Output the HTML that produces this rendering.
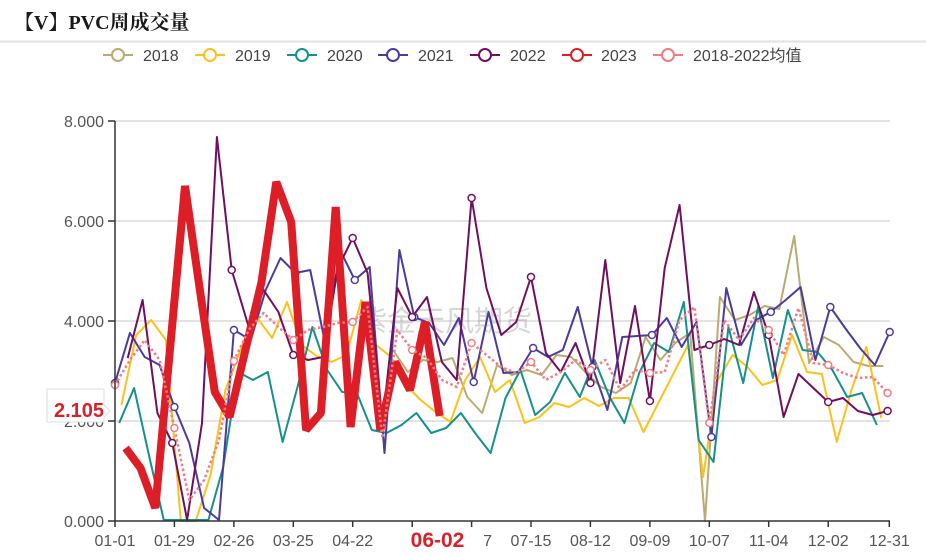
<!DOCTYPE html>
<html><head><meta charset="utf-8">
<style>
html,body{margin:0;padding:0;background:#fff;}
svg{display:block;}
</style></head>
<body>
<svg width="926" height="556" xmlns="http://www.w3.org/2000/svg" font-family="'Liberation Sans','Noto Sans CJK SC',sans-serif">
<rect width="926" height="556" fill="#fff"/>
<text x="14" y="29" font-family="'Liberation Serif','Noto Serif CJK SC',serif" font-weight="bold" font-size="20" fill="#1a1a1a">【V】PVC周成交量</text>
<rect x="0" y="40.5" width="926" height="2" fill="#e2e2e2"/>

<!-- legend -->
<g stroke-width="2" fill="#fff">
  <line x1="103" y1="55" x2="133" y2="55" stroke="#b8ab73"/><circle cx="118" cy="55" r="6" stroke="#b8ab73"/>
  <line x1="195" y1="55" x2="225" y2="55" stroke="#fcc21b"/><circle cx="210" cy="55" r="6" stroke="#fcc21b"/>
  <line x1="287" y1="55" x2="317" y2="55" stroke="#16908c"/><circle cx="302" cy="55" r="6" stroke="#16908c"/>
  <line x1="378" y1="55" x2="408" y2="55" stroke="#4b3c9c"/><circle cx="393" cy="55" r="6" stroke="#4b3c9c"/>
  <line x1="470" y1="55" x2="500" y2="55" stroke="#700f5f"/><circle cx="485" cy="55" r="6" stroke="#700f5f"/>
  <line x1="562" y1="55" x2="592" y2="55" stroke="#dd1e26"/><circle cx="577" cy="55" r="6" stroke="#dd1e26"/>
  <line x1="653" y1="55" x2="683" y2="55" stroke="#f37b82"/><circle cx="668" cy="55" r="6" stroke="#f37b82"/>
</g>
<g font-size="16" fill="#444">
  <text x="143" y="61">2018</text>
  <text x="235" y="61">2019</text>
  <text x="327" y="61">2020</text>
  <text x="418" y="61">2021</text>
  <text x="510" y="61">2022</text>
  <text x="601" y="61">2023</text>
  <text x="693" y="61">2018-2022均值</text>
</g>

<!-- grid -->
<g stroke="#dadada" stroke-width="1.5">
  <line x1="115" y1="121" x2="890" y2="121"/>
  <line x1="115" y1="221" x2="890" y2="221"/>
  <line x1="115" y1="321" x2="890" y2="321"/>
  <line x1="115" y1="421" x2="890" y2="421"/>
</g>

<!-- y labels -->
<g font-size="16" fill="#555" text-anchor="end">
  <text x="104" y="127">8.000</text>
  <text x="104" y="227">6.000</text>
  <text x="104" y="327">4.000</text>
  <text x="104" y="427">2.000</text>
  <text x="104" y="527">0.000</text>
</g>

<!-- watermark -->
<text x="358" y="331" font-size="29" fill="#999" fill-opacity="0.4" font-family="'Noto Sans CJK SC',sans-serif">紫金天风期货</text>

<!-- series -->
<g fill="none" stroke-width="2" stroke-linejoin="round">
<polyline stroke="#b8ab73" points="393,350 407.9,372 422.8,360 437.6,362 452.5,358 467.3,397 482.2,413 497,365 511.9,375 526.8,370 541.6,375 556.5,355 571.3,357 586.2,373 601,387 615.9,393 630.8,383 645.6,337 660.5,360 675.3,343 690.2,333 705,521 719.9,297 734.8,320 749.6,315 764.5,306 779.3,309 794.2,236 809.1,363 823.9,337 838.8,345 853.6,362 868.5,366 883.3,366"/>
<polyline stroke="#fcc21b" points="121.4,405 136.2,335 151.1,320 165.9,340 180.8,521 195.7,521 210.5,475 225.4,390 242.4,345 257.2,318 272.1,338 287,302 301.8,345 316.7,356 331.5,362 346.4,355 361.3,300 376.1,345 391,357 405.8,385 420.7,400 435.5,412 450.4,422 465.2,380 480.1,357 495,392 509.8,380 524.7,423 539.5,417 554.4,403 569.2,407 584.1,398 599,406 613.8,398 628.7,398 643.5,432 658.4,403 673.2,374 688.1,345 703,477 717.8,380 732.7,355 747.5,367 762.4,385 777.2,380 792.1,335 807,372 821.8,374 836.7,442 851.5,390 866.4,347 881.2,418"/>
<polyline stroke="#16908c" points="119.2,423 134.1,388 148.9,455 163.8,520 178.6,520 193.5,520 208.4,520 223.2,467 238.1,372 252.9,380 267.8,372 282.6,442 297.5,387 312.4,327 327.2,370 342.1,392 356.9,393 371.8,430 386.6,433 401.5,425 416.4,413 431.2,433 446.1,428 460.9,413 475.8,434 490.6,453 505.5,398 520.4,370 535.2,415 550.1,402 564.9,373 579.8,397 594.6,360 609.5,397 624.4,423 639.2,373 654.1,343 668.9,352 683.8,302 698.6,440 713.5,462 728.4,327 743.2,383 758.1,307 772.9,378 787.8,310 802.6,350 817.5,352 832.4,370 847.2,397 862.1,393 876.9,425"/>
<polyline stroke="#4b3c9c" points="115,383 129.9,333 144.7,357 159.6,365 174.4,407 189.3,443 204.1,508 219,520 233.9,330 250.8,340 265.7,290 280.5,258 295.4,273 310.2,270 325.1,343 340,250 354.8,280 369.7,267 384.5,453 399.4,250 414.3,317 429.1,323 444,345 458.8,318 473.7,382 488.5,312 503.4,373 518.3,372 533.1,348 548,357 562.8,350 577.7,307 592.5,367 607.4,410 622.3,337 637.1,336 652,335 666.8,318 681.7,347 696.5,322 711.4,437 726.3,288 741.1,345 756,320 770.8,312 785.7,300 800.6,287 815.4,360 830.3,307 845.1,328 860,348 874.8,365 889.7,332"/>
<polyline stroke="#700f5f" points="127.7,358 142.6,300 157.4,413 172.3,443 187.1,520 202,423 216.9,137 231.7,270 248.7,327 263.6,290 278.4,312 293.3,355 308.1,360 323,357 337.9,268 352.7,238 367.6,273 382.4,423 397.3,288 412.2,317 427,297 441.9,362 456.7,380 471.6,198 486.4,288 501.3,335 516.2,322 531,277 545.9,353 560.7,372 575.6,343 590.4,383 605.3,260 620.2,383 635,306 649.9,401 664.7,268 679.6,205 694.4,350 709.3,345 724.2,339 739,345 753.9,292 768.7,335 783.6,417 798.5,374 813.3,388 828.2,402 843,398 857.9,411 872.7,415 887.6,411"/>
</g>
<g fill="#fff" stroke-width="1.5">
<g stroke="#4b3c9c">
<circle cx="115" cy="383" r="3.5"/><circle cx="174.4" cy="407" r="3.5"/><circle cx="233.9" cy="330" r="3.5"/><circle cx="295.4" cy="273" r="3.5"/><circle cx="354.8" cy="280" r="3.5"/><circle cx="414.3" cy="317" r="3.5"/><circle cx="473.7" cy="382" r="3.5"/><circle cx="533.1" cy="348" r="3.5"/><circle cx="592.5" cy="367" r="3.5"/><circle cx="652" cy="335" r="3.5"/><circle cx="711.4" cy="437" r="3.5"/><circle cx="770.8" cy="312" r="3.5"/><circle cx="830.3" cy="307" r="3.5"/><circle cx="889.7" cy="332" r="3.5"/>
</g>
<g stroke="#700f5f">
<circle cx="172.3" cy="443" r="3.5"/><circle cx="231.7" cy="270" r="3.5"/><circle cx="293.3" cy="355" r="3.5"/><circle cx="352.7" cy="238" r="3.5"/><circle cx="412.2" cy="317" r="3.5"/><circle cx="471.6" cy="198" r="3.5"/><circle cx="531" cy="277" r="3.5"/><circle cx="590.4" cy="383" r="3.5"/><circle cx="649.9" cy="401" r="3.5"/><circle cx="709.3" cy="345" r="3.5"/><circle cx="768.7" cy="335" r="3.5"/><circle cx="828.2" cy="402" r="3.5"/><circle cx="887.6" cy="411" r="3.5"/>
</g>
</g>

<polyline fill="none" stroke="#dd1e26" stroke-width="8" stroke-linejoin="bevel" points="125.6,448 140.5,468 155.3,508 170.2,347 185,186 199.9,290 214.8,392 229.6,417 246.6,345 261.5,282 276.3,182 291.2,222 306,430 320.9,413 335.7,207 350.6,427 365.5,302 380.3,430 395.2,362 410,390 424.9,322 439.7,416"/>

<polyline fill="none" stroke="#f37b82" stroke-width="2.5" stroke-dasharray="2.5 2.5" stroke-linejoin="round" points="115,385 129.9,360 144.7,340 159.6,360 174.4,428 189.3,500 204.1,480 219,440 233.9,361 248.7,330 263.6,313 278.4,327 293.3,340 308.1,330 323,327 337.9,323 352.7,322 367.6,307 382.4,438 397.3,330 412.2,350 427,358 441.9,380 456.7,387 471.6,343 486.4,355 501.3,367 516.2,373 531,362 545.9,380 560.7,372 575.6,360 590.4,370 605.3,360 620.2,390 635,370 649.9,373 664.7,372 679.6,320 694.4,307 709.3,423 724.2,320 739,340 753.9,318 768.7,330 783.6,355 798.5,308 813.3,363 828.2,365 843,373 857.9,378 872.7,377 887.6,393"/>
<g fill="#fff" stroke="#f37b82" stroke-width="1.5">
<circle cx="115" cy="385" r="3.5"/><circle cx="174.4" cy="428" r="3.5"/><circle cx="233.9" cy="361" r="3.5"/><circle cx="293.3" cy="340" r="3.5"/><circle cx="352.7" cy="322" r="3.5"/><circle cx="412.2" cy="350" r="3.5"/><circle cx="471.6" cy="343" r="3.5"/><circle cx="531" cy="362" r="3.5"/><circle cx="590.4" cy="370" r="3.5"/><circle cx="649.9" cy="373" r="3.5"/><circle cx="709.3" cy="423" r="3.5"/><circle cx="768.7" cy="330" r="3.5"/><circle cx="828.2" cy="365" r="3.5"/><circle cx="887.6" cy="393" r="3.5"/>
</g>

<!-- axes -->
<g stroke="#333" stroke-width="1.5">
  <line x1="115" y1="121" x2="115" y2="521"/>
  <line x1="115" y1="521" x2="890" y2="521"/>
  <line x1="108" y1="121" x2="115" y2="121"/>
  <line x1="108" y1="221" x2="115" y2="221"/>
  <line x1="108" y1="321" x2="115" y2="321"/>
  <line x1="108" y1="421" x2="115" y2="421"/>
  <line x1="108" y1="521" x2="115" y2="521"/>
  <line x1="115" y1="521" x2="115" y2="527"/>
  <line x1="174.4" y1="521" x2="174.4" y2="527"/>
  <line x1="233.9" y1="521" x2="233.9" y2="527"/>
  <line x1="293.3" y1="521" x2="293.3" y2="527"/>
  <line x1="352.7" y1="521" x2="352.7" y2="527"/>
  <line x1="412.2" y1="521" x2="412.2" y2="527"/>
  <line x1="471.6" y1="521" x2="471.6" y2="527"/>
  <line x1="531" y1="521" x2="531" y2="527"/>
  <line x1="590.4" y1="521" x2="590.4" y2="527"/>
  <line x1="649.9" y1="521" x2="649.9" y2="527"/>
  <line x1="709.3" y1="521" x2="709.3" y2="527"/>
  <line x1="768.7" y1="521" x2="768.7" y2="527"/>
  <line x1="828.2" y1="521" x2="828.2" y2="527"/>
  <line x1="889.3" y1="521" x2="889.3" y2="527"/>
</g>

<!-- x labels -->
<g font-size="16" fill="#555" text-anchor="middle">
  <text x="115" y="546">01-01</text>
  <text x="174.4" y="546">01-29</text>
  <text x="233.9" y="546">02-26</text>
  <text x="293.3" y="546">03-25</text>
  <text x="352.7" y="546">04-22</text>
  <text x="412.2" y="546">05-20</text>
  <text x="471.6" y="546">06-17</text>
  <text x="531" y="546">07-15</text>
  <text x="590.4" y="546">08-12</text>
  <text x="649.9" y="546">09-09</text>
  <text x="709.3" y="546">10-07</text>
  <text x="768.7" y="546">11-04</text>
  <text x="828.2" y="546">12-02</text>
  <text x="889.3" y="546">12-31</text>
</g>

<!-- axis pointer labels -->
<rect x="392" y="528" width="92" height="28" fill="#fff"/>
<text x="437.5" y="547" text-anchor="middle" font-size="21" font-weight="bold" fill="#d7212b">06-02</text>

<path d="M47,389 H104 V405 L110,411 L104,417 V422 H47 Z" fill="#fff" stroke="#dedede" stroke-width="1"/>
<text x="54" y="417" font-size="20" font-weight="bold" fill="#d7212b">2.105</text>
</svg>
</body></html>
